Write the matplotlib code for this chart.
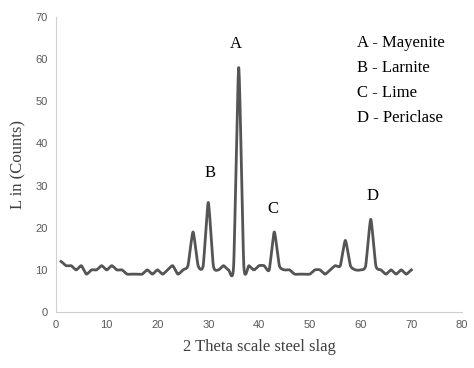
import numpy as np
import matplotlib
matplotlib.use("Agg")
import matplotlib.pyplot as plt

# 2 theta values and counts
two_theta = list(range(1, 71))
counts = [12, 11, 11, 10, 11, 9, 10, 10, 11, 10,
          11, 10, 10, 9, 9, 9, 9, 10, 9, 10,
          9, 10, 11, 9, 10, 11, 19, 11, 11, 26,
          11, 10, 11, 10, 11, 58, 11, 11, 10, 11,
          11, 10, 19, 11, 10, 10, 9, 9, 9, 9,
          10, 10, 9, 10, 11, 11, 17, 11, 10, 10,
          11, 22, 11, 10, 9, 10, 9, 10, 9, 10]

peak_labels = ["A", "B", "C", "D"]
peak_pos = [(35.5, 63.5), (30.3, 33), (42.8, 24.5), (62.3, 27.5)]
legend_lines = ["A - Mayenite", "B - Larnite", "C - Lime", "D - Periclase"]


def smooth(x, y, n=20, c=0.3):
    # courbe lissée (spline cardinale, tension réduite pour éviter les creux)
    x = np.asarray(x, float)
    y = np.asarray(y, float)
    px = np.concatenate([[2 * x[0] - x[1]], x, [2 * x[-1] - x[-2]]])
    py = np.concatenate([[y[0]], y, [y[-1]]])
    xs, ys = [], []
    t = np.linspace(0, 1, n, endpoint=False)
    h00 = 2 * t ** 3 - 3 * t ** 2 + 1
    h10 = t ** 3 - 2 * t ** 2 + t
    h01 = -2 * t ** 3 + 3 * t ** 2
    h11 = t ** 3 - t ** 2
    for i in range(1, len(px) - 2):
        for p, out in ((px, xs), (py, ys)):
            p0, p1, p2, p3 = p[i - 1], p[i], p[i + 1], p[i + 2]
            m1 = c * (p2 - p0)
            m2 = c * (p3 - p1)
            out.extend(h00 * p1 + h10 * m1 + h01 * p2 + h11 * m2)
    xs.append(x[-1])
    ys.append(y[-1])
    return np.array(xs), np.array(ys)


fig = plt.figure(figsize=(4.74, 3.68), dpi=100)
ax = fig.add_axes([0.118, 0.152, 0.857, 0.802])

sx, sy = smooth(two_theta, counts)
ax.plot(sx, sy, color="#555555", linewidth=2)

ax.set_xlim(0, 80)
ax.set_ylim(0, 70)
ax.set_xticks(range(0, 81, 10))
ax.set_yticks(range(0, 71, 10))
ax.tick_params(length=0, labelsize=8, colors="#595959", pad=6)
for lab in ax.get_xticklabels() + ax.get_yticklabels():
    lab.set_family("Liberation Sans")

for side in ["top", "right"]:
    ax.spines[side].set_visible(False)
for side in ["left", "bottom"]:
    ax.spines[side].set_color("#d0d0d0")

serif = "Liberation Serif"
ax.set_xlabel("2 Theta scale steel slag", family=serif, fontsize=12,
              color="#404040", labelpad=6)
ax.set_ylabel("L in (Counts)", family=serif, fontsize=12,
              color="#404040", labelpad=6)

for lab, (x, y) in zip(peak_labels, peak_pos):
    ax.text(x, y, lab, family=serif, fontsize=12, ha="center", va="center")

for i, line in enumerate(legend_lines):
    ax.text(59.3, 63.8 - 5.95 * i, line, family=serif, fontsize=12,
            ha="left", va="center")

fig.savefig("out.png", dpi=100)
